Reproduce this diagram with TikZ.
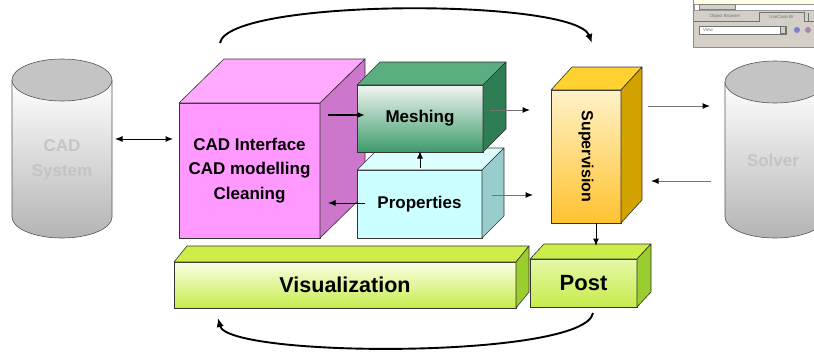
\documentclass[tikz,border=0pt]{standalone}
\usepackage{fontspec}
\setmainfont{Liberation Sans}
\usetikzlibrary{arrows.meta,calc}
\definecolor{cadfront}{HTML}{FF99FF}
\definecolor{cadtop}{HTML}{FFAAFF}
\definecolor{cadside}{HTML}{CC77CC}
\definecolor{meshtopc}{HTML}{F2F6F2}
\definecolor{meshbot}{HTML}{3D9B6B}
\definecolor{meshtop}{HTML}{5AAE80}
\definecolor{meshside}{HTML}{2E7D55}
\definecolor{propfront}{HTML}{CCFFFF}
\definecolor{proptop}{HTML}{DDFFFF}
\definecolor{propside}{HTML}{99CCCC}
\definecolor{supfronttop}{HTML}{FFF2C8}
\definecolor{supfrontbot}{HTML}{FFC22E}
\definecolor{suptop}{HTML}{FFD232}
\definecolor{supside}{HTML}{D2A200}
\definecolor{visfronttop}{HTML}{FAFFE6}
\definecolor{visfrontbot}{HTML}{C6EC4C}
\definecolor{vistop}{HTML}{CDEE48}
\definecolor{visside}{HTML}{9ACD2E}
\definecolor{cyltop}{HTML}{C4C4C4}
\definecolor{cylbot}{HTML}{B4B4B4}
\definecolor{cylline}{HTML}{555555}
\definecolor{greytxt}{HTML}{C4C4C4}
\definecolor{wingray}{HTML}{D4D0C8}
\definecolor{winyellow}{HTML}{FFFFE6}
\newcommand{\cuboid}[5]{%
  \draw[face, fill=#4] (#1.north west) -- ++(#2,-#3) -- ($(#1.north east)+(#2,-#3)$) -- (#1.north east) -- cycle;
  \draw[face, fill=#5] (#1.north east) -- ++(#2,-#3) -- ($(#1.south east)+(#2,-#3)$) -- (#1.south east) -- cycle;}
\tikzset{
  face/.style={draw=black!80, line width=0.6pt, line join=round},
  frontbox/.style={face, inner sep=0pt, outer sep=0pt, align=center,
     font=\bfseries\fontsize{17}{24.5}\selectfont},
  arr/.style={-{Latex[length=7.5pt,width=6pt]}, line width=1pt},
  arrg/.style={-{Latex[length=7.5pt,width=6pt,black]}, line width=1pt, draw=black!55},
  curvearr/.style={-{Latex[length=9pt,width=7.5pt]}, line width=1.9pt},
  cylline/.style={draw=cylline, line width=0.6pt},
  cyltext/.style={text=greytxt, align=center, font=\bfseries\fontsize{17}{24.5}\selectfont},
  tiny/.style={text=black!55, inner sep=0pt, font=\fontsize{4.5}{5}\selectfont}
}
\begin{document}
\begin{tikzpicture}[x=1pt,y=-1pt]
\useasboundingbox (0,0) rectangle (814,351);
\clip (0,0) rectangle (814,351);

% CAD System cylinder
\shade[top color=white, bottom color=cylbot, cylline]
  (12,80) -- (12,217) .. controls (12,228.6) and (34.4,238) .. (62,238)
  .. controls (89.6,238) and (112,228.6) .. (112,217) -- (112,80) -- cycle;
\draw[cylline, fill=cyltop] (62,80) ellipse [x radius=50, y radius=21];
\node[cyltext] (cadsys) at (62,160) {CAD\\System};

% Solver cylinder
\shade[top color=white, bottom color=cylbot, cylline]
  (725,82) -- (725,217) .. controls (725,228.6) and (747.4,238) .. (775,238)
  .. controls (802.6,238) and (825,228.6) .. (825,217) -- (825,82) -- cycle;
\draw[cylline, fill=cyltop] (775,82) ellipse [x radius=50, y radius=21];
\node[cyltext] (solver) at (773,160) {Solver};

% CAD interface cube
\node[frontbox, fill=cadfront, minimum width=141pt, minimum height=135pt] (cad) at (249.5,170.5)
  {CAD Interface\\CAD modelling\\Cleaning};
\cuboid{cad}{45}{44}{cadtop}{cadside}

% Properties
\node[frontbox, fill=propfront, minimum width=125pt, minimum height=68pt] (prop) at (419.5,204) {Properties};
\cuboid{prop}{22}{22}{proptop}{propside}

% Meshing
\node[frontbox, top color=meshtopc, bottom color=meshbot, minimum width=126pt, minimum height=67pt] (mesh) at (420,118.5) {Meshing};
\cuboid{mesh}{23}{23}{meshtop}{meshside}

% Supervision
\node[frontbox, top color=supfronttop, bottom color=supfrontbot, minimum width=70pt, minimum height=133pt] (sup) at (586,156.5) {};
\cuboid{sup}{21}{23}{suptop}{supside}
\node[rotate=-90, font=\bfseries\fontsize{16}{19}\selectfont, inner sep=0pt] (suplabel) at (sup.center) {Supervision};

% Visualization
\node[frontbox, top color=visfronttop, bottom color=visfrontbot, minimum width=342pt, minimum height=46pt,
  font=\bfseries\fontsize{21.5}{24}\selectfont] (vis) at (345,285) {Visualization};
\cuboid{vis}{13}{16}{vistop}{visside}

% Post
\node[frontbox, top color=visfronttop!60!visfrontbot, bottom color=visfrontbot, minimum width=107pt, minimum height=48pt,
  font=\bfseries\fontsize{22}{24}\selectfont] (post) at (583.5,283) {Post};
\cuboid{post}{14}{15}{vistop}{visside}

% Screenshot fragment (top right)
\draw[draw=black!45, fill=wingray, line width=0.6pt] (693,-2) rectangle (816,47);
\fill[winyellow] (694,-2) rectangle (816,5);
\draw[draw=black!40, fill=white, line width=0.4pt] (694,4) rectangle (816,10);
\draw[draw=black!50, fill=wingray, line width=0.4pt] (699,4.5) rectangle (735,9.5);
\draw[draw=black!55, line width=0.4pt] (694,21) -- (759,21) -- (759,12.5) -- (804,12.5) -- (804,21) -- (816,21);
\draw[draw=black!55, line width=0.4pt] (808,21) -- (808,12.5);
\node[tiny] (tabone) at (725,16.5) {Object Browser};
\node[tiny] (tabtwo) at (781.5,16.8) {UseCase Br};
\draw[draw=black!55, fill=white, line width=0.4pt] (699,26) rectangle (786,34);
\draw[draw=black!55, fill=wingray, line width=0.4pt] (780,26.5) rectangle (785.5,33.5);
\node[tiny, anchor=west] (viewtxt) at (703,30) {View};
\fill[blue!45!gray!70] (797,30) circle [radius=3];
\fill[violet!35!gray!70] (808,30) circle [radius=3];

% Connectors
\coordinate (c1) at (115,139);
\draw[{Latex[length=7.5pt,width=6pt]}-{Latex[length=7.5pt,width=6pt]}, line width=1pt, shorten >=6pt] (c1) -- (c1 -| cad.west);
\coordinate (c2) at (328,115);
\draw[arr, line width=1.6pt, shorten >=-8pt] (c2) -- (c2 -| mesh.west);
\coordinate (c3) at (365,203);
\draw[arr, shorten >=8pt] (c3) -- (c3 -| cad.east);
\coordinate (c4) at (420,168);
\draw[arr, shorten >=-1pt] (c4) -- (c4 |- mesh.south);
\coordinate (c5) at (490,110);
\draw[arrg, shorten >=21pt] (c5) -- (c5 -| sup.west);
\coordinate (c6) at (492,195);
\draw[arrg, shorten >=18pt] (c6) -- (c6 -| sup.west);
\coordinate (c7) at (648,106);
\coordinate (solverw) at (725,106);
\draw[arrg, shorten >=15pt] (c7) -- (solverw);
\coordinate (c8) at (711,181);
\draw[arrg, shorten >=30pt] (c8) -- (c8 -| sup.east);
\coordinate (c9) at (596,223);
\draw[arr, shorten >=13pt] (c9) -- (c9 |- post.north);

% Loop curves
\coordinate (t1) at (220,43);
\coordinate (t2) at (592,43);
\draw[curvearr] (t1) .. controls (228,-2) and (575,-2) .. (t2);
\coordinate (b1) at (593,313);
\coordinate (b2) at (218,318);
\draw[curvearr] (b1) .. controls (585,359) and (228,358) .. (b2);
\end{tikzpicture}
\end{document}
